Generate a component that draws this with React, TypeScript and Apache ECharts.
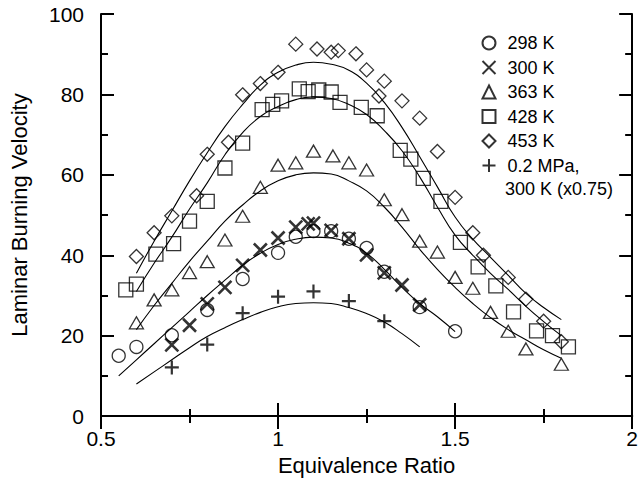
import React, { useEffect, useRef } from "react";
import * as echarts from "echarts";

// ---- Data ----
const s298K: number[][] = [
  [0.55, 15.0], [0.6, 17.2], [0.7, 20.1], [0.8, 26.4], [0.9, 34.1], [1.0, 40.6], [1.05, 44.6],
  [1.1, 46.0], [1.15, 46.0], [1.2, 44.1], [1.25, 41.8], [1.3, 35.9], [1.4, 27.1], [1.5, 21.1],
];
const s300K: number[][] = [
  [0.7, 17.7], [0.75, 22.6], [0.8, 27.9], [0.85, 32.0], [0.9, 37.5], [0.95, 41.3], [1.0, 44.3],
  [1.05, 47.0], [1.085, 47.8], [1.1, 48.0], [1.15, 46.2], [1.2, 44.1], [1.25, 40.1], [1.3, 35.6],
  [1.35, 32.6], [1.4, 27.7],
];
const s363K: number[][] = [
  [0.6, 23.2], [0.65, 28.9], [0.7, 31.4], [0.75, 35.7], [0.8, 38.4], [0.85, 43.8], [0.9, 49.7],
  [0.95, 56.9], [1.0, 62.4], [1.05, 63.0], [1.1, 65.9], [1.155, 64.7], [1.2, 63.0], [1.25, 61.2],
  [1.3, 53.8], [1.35, 50.1], [1.4, 43.5], [1.45, 40.8], [1.5, 34.5], [1.55, 31.8], [1.6, 25.8],
  [1.65, 21.1], [1.7, 16.7], [1.8, 12.9],
];
const s428K: number[][] = [
  [0.57, 31.4], [0.6, 32.8], [0.655, 40.3], [0.705, 42.9], [0.75, 48.5], [0.8, 53.4], [0.85, 61.7],
  [0.9, 67.9], [0.955, 76.2], [0.985, 77.5], [1.01, 78.4], [1.06, 81.4], [1.085, 80.7], [1.115, 81.1],
  [1.15, 80.6], [1.175, 78.0], [1.235, 76.8], [1.28, 74.7], [1.345, 66.1], [1.375, 63.9], [1.41, 59.1],
  [1.46, 53.4], [1.515, 43.2], [1.565, 37.1], [1.615, 32.4], [1.665, 25.9], [1.73, 21.2], [1.775, 20.0],
  [1.82, 17.2],
];
const s453K: number[][] = [
  [0.6, 39.7], [0.65, 45.6], [0.7, 49.8], [0.77, 54.8], [0.8, 65.1], [0.86, 68.1], [0.9, 79.9],
  [0.95, 82.7], [1.0, 85.5], [1.05, 92.5], [1.11, 91.3], [1.15, 90.5], [1.17, 90.9], [1.22, 90.1],
  [1.25, 86.1], [1.285, 79.6], [1.3, 83.3], [1.35, 78.4], [1.4, 74.1], [1.45, 65.8], [1.5, 54.4],
  [1.55, 45.6], [1.58, 40.0], [1.65, 34.5], [1.7, 29.1], [1.75, 23.6], [1.8, 18.5],
];
const s02MPa: number[][] = [
  [0.7, 12.1], [0.8, 17.8], [0.9, 25.6], [1.0, 29.7], [1.1, 31.0], [1.2, 28.6], [1.3, 23.6],
];

// Fitted curves
const fit453K: number[][] = [
  [0.6, 35.5], [0.65, 43.5], [0.7, 51], [0.75, 58.5], [0.8, 65.5], [0.85, 72], [0.9, 77.5],
  [0.95, 82.3], [1.0, 85.5], [1.05, 87.3], [1.1, 88], [1.15, 87.5], [1.2, 86], [1.25, 82.8],
  [1.3, 78], [1.35, 71.8], [1.4, 64.5], [1.45, 57], [1.5, 49.5], [1.55, 44], [1.6, 39.5],
  [1.65, 35], [1.7, 30.5], [1.75, 27], [1.8, 24],
];
const fit428K: number[][] = [
  [0.6, 31], [0.65, 38], [0.7, 44.5], [0.75, 51.5], [0.8, 58], [0.85, 65], [0.9, 70.5],
  [0.95, 74.5], [1.0, 77], [1.05, 78.7], [1.1, 79.4], [1.15, 79], [1.2, 77.5], [1.25, 75],
  [1.3, 71], [1.35, 66], [1.4, 59.5], [1.45, 52], [1.5, 45], [1.55, 40], [1.6, 35.5],
  [1.65, 31.5], [1.7, 27.3], [1.75, 23.5], [1.8, 20],
];
const fit363K: number[][] = [
  [0.6, 21.5], [0.65, 27.5], [0.7, 33], [0.75, 38.5], [0.8, 43.5], [0.85, 48.5], [0.9, 52.5],
  [0.95, 56], [1.0, 58.5], [1.05, 60], [1.1, 60.5], [1.15, 60.2], [1.2, 58.5], [1.25, 56],
  [1.3, 52], [1.35, 47], [1.4, 41.5], [1.45, 36.5], [1.5, 32], [1.55, 28], [1.6, 24.5],
  [1.65, 21.5], [1.7, 19], [1.75, 16.5], [1.8, 14.4],
];
const fit300K: number[][] = [
  [0.55, 10], [0.6, 14], [0.65, 18], [0.7, 22], [0.75, 26], [0.8, 30], [0.85, 33.8], [0.9, 37.5],
  [0.95, 40.5], [1.0, 42.7], [1.05, 44], [1.1, 44.5], [1.15, 44.3], [1.2, 43], [1.25, 40.5],
  [1.3, 36.5], [1.35, 32], [1.4, 28], [1.45, 24.7], [1.5, 21],
];
const fit02MPa: number[][] = [
  [0.6, 8], [0.65, 11], [0.7, 14], [0.75, 17], [0.8, 19.8], [0.85, 22], [0.9, 24], [0.95, 25.8],
  [1.0, 27.2], [1.05, 28], [1.1, 28.2], [1.15, 28], [1.2, 27], [1.25, 25.5], [1.3, 23.4],
  [1.35, 20.5], [1.4, 17.2],
];

const seriesNames = ["298 K", "300 K", "363 K", "428 K", "453 K", "0.2 MPa,"];
const legendSecondLine = "300 K (x0.75)";
const xTicks = { min: 0.5, max: 2, interval: 0.5 };
const yTicks = { min: 0, max: 100, interval: 20 };

const FONT = "'Liberation Sans', Arial, Helvetica, sans-serif";

export default function App() {
  const ref = useRef<HTMLDivElement>(null);
  useEffect(() => {
    document.body.style.margin = "0";
    if (!ref.current) return;
    const chart = echarts.init(ref.current, undefined, { renderer: "svg" });

    const open = (w = 1.3) => ({ color: "none", borderColor: "#000", borderWidth: w });
    const scatter = (name: string, data: number[][], symbol: string, size: any, w = 1.3) => ({
      type: "scatter",
      name,
      data,
      symbol,
      symbolSize: size,
      itemStyle: open(w),
      emphasis: { disabled: true },
      z: 3,
    });
    const curve = (data: number[][]) => ({
      type: "line",
      data,
      smooth: true,
      showSymbol: false,
      symbol: "none",
      silent: true,
      lineStyle: { color: "#000", width: 1.1 },
      z: 2,
    });

    const axisCommon = {
      axisLine: { lineStyle: { color: "#000", width: 2 } },
      axisTick: { inside: true, length: 13, lineStyle: { color: "#000", width: 2 } },
      minorTick: { show: true, splitNumber: 2, length: 7, lineStyle: { color: "#000", width: 2 } },
      splitLine: { show: false },
    };

    chart.setOption({
      animation: false,
      backgroundColor: "#fff",
      textStyle: { fontFamily: FONT, color: "#000" },
      grid: { left: 100, right: 6, top: 14, bottom: 61 },
      legend: {
        data: seriesNames,
        orient: "vertical",
        left: 480,
        top: 34,
        padding: 0,
        itemWidth: 13,
        itemHeight: 13,
        itemGap: 6.5,
        selectedMode: false,
        textStyle: { fontFamily: FONT, fontSize: 18, color: "#000", lineHeight: 18, padding: [0, 0, 0, 7] },
      },
      xAxis: [
        {
          type: "value",
          ...xTicks,
          position: "bottom",
          ...axisCommon,
          axisLabel: {
            fontSize: 21,
            color: "#000",
            fontFamily: FONT,
            margin: 12,
            formatter: (v: number) => String(v),
          },
          name: "Equivalence Ratio",
          nameLocation: "middle",
          nameGap: 36,
          nameTextStyle: { fontSize: 22, color: "#000", fontFamily: FONT },
        },
        {
          type: "value",
          ...xTicks,
          position: "top",
          ...axisCommon,
          axisLabel: { show: false },
        },
      ],
      yAxis: [
        {
          type: "value",
          ...yTicks,
          position: "left",
          ...axisCommon,
          axisLabel: { fontSize: 21, color: "#000", fontFamily: FONT, margin: 17 },
          name: "Laminar Burning Velocity",
          nameLocation: "middle",
          nameGap: 71,
          nameTextStyle: { fontSize: 22, color: "#000", fontFamily: FONT },
        },
        {
          type: "value",
          ...yTicks,
          position: "right",
          ...axisCommon,
          axisLabel: { show: false },
        },
      ],
      graphic: [
        {
          type: "text",
          left: 505,
          top: 180,
          style: { text: legendSecondLine, fontSize: 18, fontFamily: FONT, fill: "#000" },
        },
      ],
      series: [
        curve(fit453K),
        curve(fit428K),
        curve(fit363K),
        curve(fit300K),
        curve(fit02MPa),
        scatter(seriesNames[0], s298K, "circle", 13),
        scatter(seriesNames[1], s300K, "path://M0,0L10,10M10,0L0,10", 13, 2.6),
        scatter(seriesNames[2], s363K, "triangle", [14, 12]),
        scatter(seriesNames[3], s428K, "rect", 14),
        scatter(seriesNames[4], s453K, "diamond", 14),
        scatter(seriesNames[5], s02MPa, "path://M5,0L5,10M0,5L10,5", 14, 2.2),
      ],
    });
    return () => chart.dispose();
  }, []);
  return <div ref={ref} style={{ width: 641, height: 481 }} />;
}
